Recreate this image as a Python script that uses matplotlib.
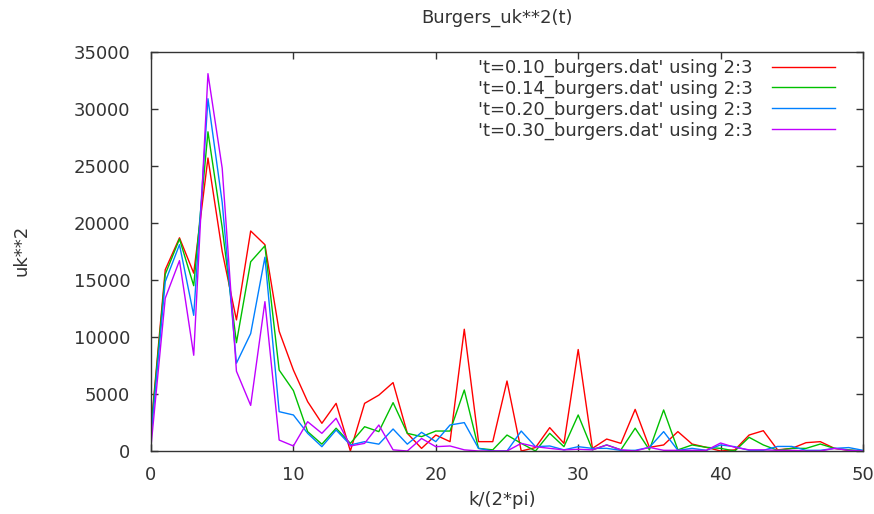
import matplotlib
matplotlib.use("Agg")
import matplotlib.pyplot as plt

k = list(range(51))
labels = ["'t=0.10_burgers.dat' using 2:3", "'t=0.14_burgers.dat' using 2:3",
          "'t=0.20_burgers.dat' using 2:3", "'t=0.30_burgers.dat' using 2:3"]
colors = ["#ff0000", "#00c000", "#0080ff", "#c000ff"]

uk_t010 = [2000, 15900, 18700, 15600, 25700, 17500, 11500, 19300, 18100, 10500,
           7100, 4330, 2430, 4180, 0, 4180, 4900, 6000, 1550, 230,
           1400, 820, 10680, 820, 820, 6140, 0, 300, 2050, 670,
           8900, 230, 1050, 670, 3650, 320, 530, 1700, 610, 320,
           0, 100, 1400, 1780, 100, 230, 730, 820, 230, 60, 0]
uk_t014 = [1800, 15500, 18600, 14500, 28000, 19600, 9500, 16600, 18000, 7100,
           5300, 1700, 600, 2000, 670, 2130, 1700, 4240, 1550, 1260,
           1750, 1750, 5350, 230, 100, 1400, 670, 0, 1550, 380,
           3160, 100, 530, 100, 2000, 100, 3600, 100, 530, 320,
           230, 0, 1200, 530, 60, 230, 230, 610, 230, 100, 0]
uk_t020 = [1200, 14850, 18100, 11900, 30900, 21800, 7700, 10300, 17000, 3450,
           3160, 1550, 380, 1840, 530, 820, 600, 1930, 600, 1640,
           820, 2280, 2490, 230, 0, 0, 1750, 380, 440, 100,
           380, 230, 230, 60, 60, 320, 1700, 60, 230, 60,
           530, 380, 60, 60, 400, 400, 60, 60, 230, 300, 60]
uk_t030 = [400, 13400, 16700, 8400, 33100, 24800, 7000, 4000, 13100, 960,
           440, 2570, 1550, 2870, 440, 670, 2280, 100, 0, 1100,
           380, 440, 100, 0, 0, 0, 670, 380, 230, 100,
           150, 100, 530, 100, 0, 320, 60, 60, 60, 60,
           700, 320, 100, 100, 60, 60, 0, 0, 230, 60, 0]
series = [uk_t010, uk_t014, uk_t020, uk_t030]

xticks = [0, 10, 20, 30, 40, 50]
yticks = [0, 5000, 10000, 15000, 20000, 25000, 30000, 35000]

W, H = 874, 514
fig = plt.figure(figsize=(W / 100, H / 100), dpi=100)
L, R, T, B = 151, 863, 52, 451
ax = fig.add_axes([L / W, 1 - B / H, (R - L) / W, (B - T) / H])

fs = 13
tc = "#333333"
for ys, c, lab in zip(series, colors, labels):
    ax.plot(k, ys, color=c, lw=1.0, label=lab)

ax.set_xlim(0, 50)
ax.set_ylim(0, 35000)
ax.set_xticks(xticks)
ax.set_yticks(yticks)
ax.tick_params(direction="in", length=5, width=1, top=True, right=True,
               labelsize=fs, colors=tc)
ax.tick_params(axis="x", pad=10.5)
ax.tick_params(axis="y", pad=15)
for s in ax.spines.values():
    s.set_linewidth(1.0)
    s.set_color("#333333")

fig.text(497 / W, 1 - 18 / H, "Burgers_uk**2(t)", ha="center", va="center",
         fontsize=fs, color=tc)
fig.text(502 / W, 1 - 500 / H, "k/(2*pi)", ha="center", va="center",
         fontsize=fs, color=tc)
fig.text(22 / W, 1 - 250 / H, "uk**2", ha="center", va="center", rotation=90,
         fontsize=fs, color=tc)

leg = ax.legend(loc="upper right", bbox_to_anchor=(835 / W, 1 - 59 / H),
                bbox_transform=fig.transFigure, frameon=False, markerfirst=False,
                fontsize=fs, handlelength=3.5, handletextpad=1.05,
                labelspacing=0.14, borderpad=0, borderaxespad=0)
for t in leg.get_texts():
    t.set_color(tc)

fig.savefig("out.png", dpi=100)
